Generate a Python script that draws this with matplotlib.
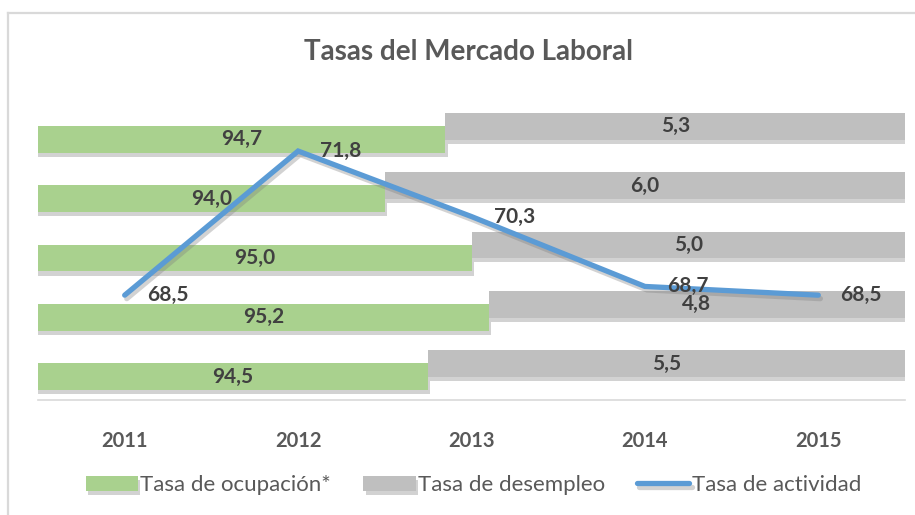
import matplotlib

matplotlib.use("Agg")
import matplotlib.pyplot as plt
import matplotlib.patheffects as pe
from matplotlib.lines import Line2D

plt.rcParams["font.family"] = ["Lato", "DejaVu Sans"]

# barras apiladas (de abajo hacia arriba)
bar_rows = ["2011", "2012", "2013", "2014", "2015"]
ocupacion = [94.5, 95.2, 95.0, 94.0, 94.7]
desempleo = [5.5, 4.8, 5.0, 6.0, 5.3]

# linea sobre los años
years = ["2011", "2012", "2013", "2014", "2015"]
actividad = [68.5, 71.8, 70.3, 68.7, 68.5]

GREEN = "#A9D18E"
GRAY = "#BFBFBF"
BLUE = "#5B9BD5"
TXT = "#595959"
LBL = "#404040"

W, H = 915, 515
fig = plt.figure(figsize=(W / 100, H / 100), dpi=100)


def fx(px):
    return px / W


def fy(py):
    return 1 - py / H


# marco del gráfico (solo borde superior e izquierdo visibles)
fig.add_artist(Line2D([fx(8), 1], [fy(13), fy(13)], color="#D9D9D9", lw=1.6))
fig.add_artist(Line2D([fx(8), fx(8)], [fy(13), 0], color="#D9D9D9", lw=1.6))

left, right, top, bottom = 38, 905, 103, 400
rect = [fx(left), fy(bottom), fx(right) - fx(left), fy(top) - fy(bottom)]

ax = fig.add_axes(rect)
pos = list(range(len(bar_rows)))
shadow = [pe.SimplePatchShadow(offset=(1.5, -3), shadow_rgbFace="#7f7f7f", alpha=0.35), pe.Normal()]
b1 = ax.barh([p - 0.11 for p in pos], ocupacion, height=0.45, color=GREEN, left=0,
             label="Tasa de ocupación*")
b2 = ax.barh([p + 0.11 for p in pos], desempleo, height=0.45, color=GRAY, left=ocupacion,
             label="Tasa de desempleo")
for bar in list(b1) + list(b2):
    bar.set_path_effects(shadow)
ax.set_xlim(90, 100)
ax.set_ylim(-0.5, 4.5)
ax.axis("off")

for p, o, d in zip(pos, ocupacion, desempleo):
    ax.text((90 + o) / 2, p - 0.11, f"{o:.1f}".replace(".", ","), ha="center", va="center",
            fontsize=15, fontweight="bold", color=LBL)
    ax.text(o + d / 2, p + 0.11, f"{d:.1f}".replace(".", ","), ha="center", va="center",
            fontsize=15, fontweight="bold", color=LBL)

# eje inferior
fig.add_artist(Line2D([fx(left), fx(right)], [fy(bottom), fy(bottom)], color="#D9D9D9", lw=1.2))

ax2 = fig.add_axes(rect)
ax2.patch.set_alpha(0)
xs = list(range(len(years)))
(ln,) = ax2.plot(xs, actividad, color=BLUE, lw=3.8, solid_capstyle="round", solid_joinstyle="miter",
                 label="Tasa de actividad",
                 path_effects=[pe.SimpleLineShadow(offset=(1.5, -2.5), shadow_color="#7f7f7f", alpha=0.35),
                               pe.Normal()])
ax2.set_xlim(-0.5, 4.5)
ax2.set_ylim(66.1, 72.9)
for x, v in zip(xs, actividad):
    ax2.annotate(f"{v:.1f}".replace(".", ","), (x, v), xytext=(16, 0), textcoords="offset points",
                 ha="left", va="center", fontsize=15, fontweight="bold", color=LBL)
ax2.set_xticks(xs)
ax2.set_xticklabels(years, fontsize=14.5, fontweight="bold", color=TXT)
ax2.tick_params(axis="x", length=0, pad=22)
ax2.set_yticks([])
for s in ax2.spines.values():
    s.set_visible(False)

fig.text(fx(469), fy(52), "Tasas del Mercado Laboral", ha="center", va="center",
         fontsize=20, fontweight="bold", color=TXT)

leg = fig.legend(handles=[b1, b2, ln], loc="center left", bbox_to_anchor=(fx(86), fy(485)), ncol=3,
                 frameon=False, fontsize=16, handlelength=2.35, handleheight=0.65, handletextpad=0.1,
                 columnspacing=1.45, borderpad=0, borderaxespad=0, labelcolor=TXT)

fig.savefig("out.png", dpi=100)
